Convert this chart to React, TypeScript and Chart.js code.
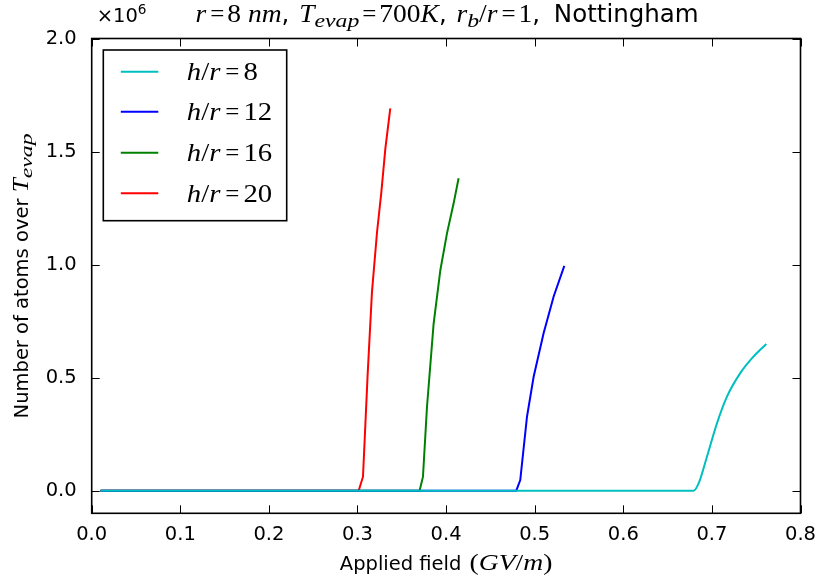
import React, { useEffect, useRef } from 'react';
import { Chart, registerables } from 'chart.js';
Chart.register(...registerables);

// ---- data (applied field in GV/m, number of atoms) ----
const seriesRatios = ['8', '12', '16', '20'];
const seriesColors = ['#00BFBF', '#0000FF', '#008000', '#FF0000'];

const field8 = [0.01, 0.6794, 0.685, 0.6944, 0.7057, 0.717, 0.732, 0.7471, 0.7614];
const atoms8 = [0, 0, 32000, 150000, 298000, 416000, 520000, 594000, 649000];

const field12 = [0.01, 0.4792, 0.4837, 0.4913, 0.4988, 0.5101, 0.5214, 0.5334];
const atoms12 = [0, 0, 47000, 327000, 504000, 697000, 859000, 994000];

const field16 = [0.01, 0.3701, 0.3739, 0.3784, 0.3859, 0.3935, 0.401, 0.4085, 0.4141];
const atoms16 = [0, 0, 62000, 369000, 738000, 975000, 1138000, 1271000, 1382000];

const field20 = [0.01, 0.3013, 0.3062, 0.3114, 0.3163, 0.322, 0.3269, 0.3314, 0.337];
const atoms20 = [0, 0, 62000, 510000, 877000, 1142000, 1319000, 1512000, 1691000];

const xTickValues = [0, 0.1, 0.2, 0.3, 0.4, 0.5, 0.6, 0.7, 0.8];
const yTickValues = [0, 500000, 1000000, 1500000, 2000000];

const SANS = '"DejaVu Sans"';
const SERIF = '"Liberation Serif"';

type Seg = { t: string; f: string; dy?: number; pre?: number; post?: number; sx?: number };

function segWidth(ctx: CanvasRenderingContext2D, segs: Seg[]) {
  let w = 0;
  for (const s of segs) {
    ctx.font = s.f;
    w += (s.pre || 0) + ctx.measureText(s.t).width * (s.sx || 1) + (s.post || 0);
  }
  return w;
}
function drawSegs(ctx: CanvasRenderingContext2D, segs: Seg[], x: number, y: number, align: 'left' | 'center') {
  let cx = align === 'center' ? x - segWidth(ctx, segs) / 2 : x;
  ctx.textAlign = 'left';
  ctx.textBaseline = 'alphabetic';
  ctx.fillStyle = '#000';
  for (const s of segs) {
    ctx.font = s.f;
    cx += s.pre || 0;
    const sx = s.sx || 1;
    ctx.save();
    ctx.translate(cx, y + (s.dy || 0));
    ctx.scale(sx, 1);
    ctx.fillText(s.t, 0, 0);
    ctx.restore();
    cx += ctx.measureText(s.t).width * sx + (s.post || 0);
  }
}

const decorPlugin = {
  id: 'decor',
  afterDatasetsDraw(chart: any) {
    const ctx: CanvasRenderingContext2D = chart.ctx;
    const { left, right, top, bottom } = chart.chartArea;
    const xs = chart.scales.x;
    const ys = chart.scales.y;
    ctx.save();
    ctx.strokeStyle = '#000';
    ctx.lineWidth = 1;
    const tl = 8;
    ctx.beginPath();
    for (const v of xTickValues) {
      const px = Math.round(xs.getPixelForValue(v)) + 0.5;
      ctx.moveTo(px, bottom);
      ctx.lineTo(px, bottom - tl);
      ctx.moveTo(px, top);
      ctx.lineTo(px, top + tl);
    }
    for (const v of yTickValues) {
      const py = Math.round(ys.getPixelForValue(v)) + 0.5;
      ctx.moveTo(left, py);
      ctx.lineTo(left + tl, py);
      ctx.moveTo(right, py);
      ctx.lineTo(right - tl, py);
    }
    ctx.stroke();
    ctx.lineWidth = 1.6;
    ctx.strokeRect(left, top, right - left, bottom - top);
    ctx.restore();
  },
  afterDraw(chart: any) {
    const ctx: CanvasRenderingContext2D = chart.ctx;
    const { left, right, top, bottom } = chart.chartArea;
    const cxm = (left + right) / 2;
    ctx.save();
    const mi = `italic 25px ${SERIF}`;
    const mr = `25px ${SERIF}`;
    const sub = `italic 19px ${SERIF}`;
    const st = `24.5px ${SANS}`;
    const SX = 1.1;
    // title
    drawSegs(ctx, [
      { t: 'r', f: mi, sx: SX },
      { t: '=', f: mr, pre: 4, post: 3 },
      { t: '8', f: mr, sx: SX },
      { t: ' ', f: mr, sx: SX },
      { t: 'nm', f: mi, sx: SX },
      { t: ', ', f: st, post: 2 },
      { t: 'T', f: mi, sx: SX },
      { t: 'evap', f: sub, dy: 5, sx: 1.25 },
      { t: '=', f: mr, pre: 3, post: 3 },
      { t: '700', f: mr, sx: SX },
      { t: 'K', f: mi, sx: SX },
      { t: ', ', f: st, post: 2 },
      { t: 'r', f: mi, sx: SX },
      { t: 'b', f: sub, dy: 5, sx: 1.25 },
      { t: '/', f: mr, sx: SX },
      { t: 'r', f: mi, sx: SX },
      { t: '=', f: mr, pre: 4, post: 3 },
      { t: '1', f: mr, sx: SX },
      { t: ', ', f: st, post: 6 },
      { t: 'Nottingham', f: st },
    ], cxm + 1, 22, 'center');
    // offset text
    drawSegs(ctx, [
      { t: '\u00d710', f: `19.5px ${SANS}` },
      { t: '6', f: `13.6px ${SANS}`, dy: -8 },
    ], left + 5, 22, 'left');
    // x label
    const lmi = `italic 24px ${SERIF}`;
    const lmr = `24px ${SERIF}`;
    drawSegs(ctx, [
      { t: 'Applied field ', f: `19.5px ${SANS}`, post: 2 },
      { t: '(', f: lmr, sx: 1.15 },
      { t: 'GV', f: lmi, sx: 1.15 },
      { t: '/', f: lmr, sx: 1.15 },
      { t: 'm', f: lmi, sx: 1.15 },
      { t: ')', f: lmr, sx: 1.15 },
    ], cxm, 570, 'center');
    // y label
    ctx.save();
    ctx.translate(28, (top + bottom) / 2);
    ctx.rotate(-Math.PI / 2);
    drawSegs(ctx, [
      { t: 'Number of atoms over ', f: `19.5px ${SANS}` },
      { t: 'T', f: `italic 23px ${SERIF}`, sx: 1.1 },
      { t: 'evap', f: `italic 17px ${SERIF}`, dy: 4, sx: 1.4 },
    ], 0, 0, 'center');
    ctx.restore();
    // legend
    const bx = left + 11.6, by = top + 11.5, bw = 183.4, bh = 170.7;
    ctx.fillStyle = '#fff';
    ctx.fillRect(bx, by, bw, bh);
    ctx.strokeStyle = '#000';
    ctx.lineWidth = 1.6;
    ctx.strokeRect(bx, by, bw, bh);
    const rowY = [71.7, 111.7, 152.7, 193.3];
    const LX = 1.15;
    seriesRatios.forEach((r, i) => {
      const y = rowY[i];
      ctx.strokeStyle = seriesColors[i];
      ctx.lineWidth = 2;
      ctx.beginPath();
      ctx.moveTo(bx + 17.5, y);
      ctx.lineTo(bx + 55, y);
      ctx.stroke();
      drawSegs(ctx, [
        { t: 'h', f: mi, sx: LX },
        { t: '/', f: mr, sx: LX },
        { t: 'r', f: mi, sx: LX },
        { t: '=', f: mr, pre: 5, post: 4 },
        { t: r, f: mr, sx: LX },
      ], bx + 83.5, y + 8.5, 'left');
    });
    ctx.restore();
  },
};

export default function App() {
  const ref = useRef<HTMLCanvasElement>(null);
  useEffect(() => {
    if (!ref.current) return;
    const mk = (xs: number[], ys: number[]) => xs.map((x, i) => ({ x, y: ys[i] }));
    const datasets = [
      { data: mk(field8, atoms8), cubicInterpolationMode: 'monotone' as const },
      { data: mk(field12, atoms12), tension: 0 },
      { data: mk(field16, atoms16), tension: 0 },
      { data: mk(field20, atoms20), tension: 0 },
    ].map((d, i) => ({
      ...d,
      label: 'h/r=' + seriesRatios[i],
      borderColor: seriesColors[i],
      backgroundColor: seriesColors[i],
      borderWidth: 2,
      pointRadius: 0,
      fill: false,
    }));
    const chart = new Chart(ref.current, {
      type: 'line',
      data: { datasets },
      options: {
        responsive: false,
        animation: false,
        layout: { padding: { left: 0, top: 38.5, right: 20.5, bottom: 0 } },
        plugins: { legend: { display: false }, title: { display: false }, tooltip: { enabled: false } },
        scales: {
          x: {
            type: 'linear',
            min: 0,
            max: 0.8,
            afterBuildTicks: (s: any) => { s.ticks = xTickValues.map((v) => ({ value: v })); },
            afterFit: (s: any) => { s.height = 64.7; },
            ticks: {
              callback: (v: any) => Number(v).toFixed(1),
              font: { family: 'DejaVu Sans', size: 19.5 },
              color: '#000',
              padding: 2,
              maxRotation: 0,
            },
            grid: { display: false },
            border: { display: false },
          },
          y: {
            type: 'linear',
            min: -100000,
            max: 2000000,
            afterBuildTicks: (s: any) => { s.ticks = yTickValues.map((v) => ({ value: v })); },
            afterFit: (s: any) => { s.width = 91.7; },
            ticks: {
              callback: (v: any) => (Number(v) / 1e6).toFixed(1),
              font: { family: 'DejaVu Sans', size: 19.5 },
              color: '#000',
              padding: 7,
            },
            grid: { display: false },
            border: { display: false },
          },
        },
      },
      plugins: [decorPlugin],
    });
    return () => chart.destroy();
  }, []);
  return (
    <div style={{ position: 'absolute', left: 0, top: 0, width: 821, height: 578, background: '#fff' }}>
      <canvas ref={ref} width={821} height={578} />
    </div>
  );
}
